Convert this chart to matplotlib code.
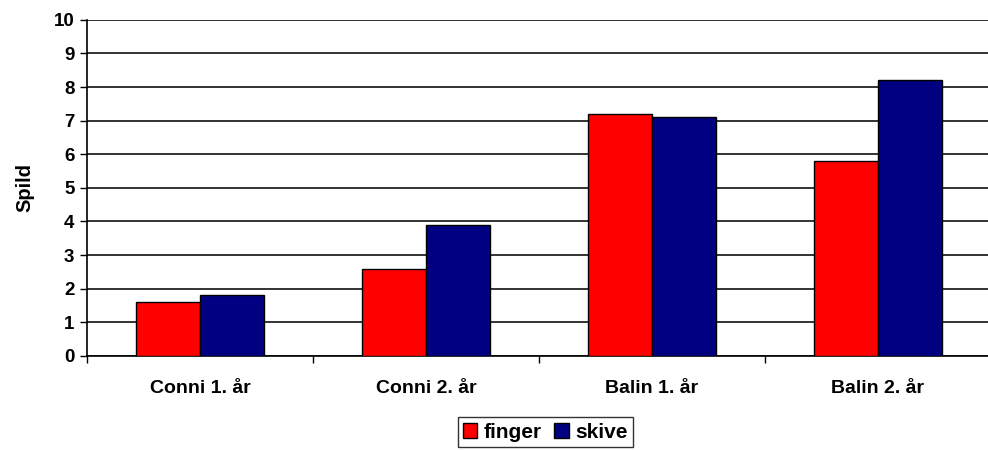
import numpy as np
import matplotlib.pyplot as plt

categories = ["Conni 1. år", "Conni 2. år", "Balin 1. år", "Balin 2. år"]
finger = [1.6, 2.6, 7.2, 5.8]
skive = [1.8, 3.9, 7.1, 8.2]

plt.rcParams['font.family'] = ['Liberation Sans', 'DejaVu Sans']
plt.rcParams['font.weight'] = 'bold'

fig = plt.figure(figsize=(9.88, 4.5), dpi=100)
ax = fig.add_axes([0.088, 0.209, 0.915, 0.747])

x = np.arange(len(categories))
w = 0.285
ax.bar(x - w / 2, finger, w, color='#ff0000', edgecolor='black', linewidth=1, label='finger', zorder=3)
ax.bar(x + w / 2, skive, w, color='#000080', edgecolor='black', linewidth=1, label='skive', zorder=3)

ax.set_xlim(-0.5, 3.5)
ax.set_ylim(0, 10)
ax.set_yticks(range(0, 11))
ax.yaxis.grid(True, color='#333333', linewidth=1.4, zorder=0)
ax.set_axisbelow(True)

# category labels centred, tick marks between groups
ax.set_xticks(x)
ax.set_xticklabels(categories, fontsize=14, fontweight='bold')
ax.tick_params(axis='x', length=0, pad=17)
ax.set_xticks(np.arange(-0.5, 4.0, 1.0), minor=True)
ax.tick_params(axis='x', which='minor', length=5, width=1, direction='out')
ax.tick_params(axis='y', labelsize=13.5, length=5, width=1, direction='out', pad=4)
for lab in ax.get_yticklabels():
    lab.set_fontweight('bold')

for side in ['top', 'right']:
    ax.spines[side].set_visible(False)
ax.spines['left'].set_linewidth(1.2)
ax.spines['bottom'].set_linewidth(1.2)

ax.set_ylabel('Spild', fontsize=14.5, fontweight='bold', labelpad=14)

leg = ax.legend(loc='upper center', bbox_to_anchor=(0.507, -0.152), ncol=2,
                frameon=True, fancybox=False, edgecolor='black', fontsize=15,
                handlelength=0.7, handleheight=0.7, handletextpad=0.3,
                columnspacing=0.6, borderpad=0.25)
leg.get_frame().set_linewidth(1)

fig.savefig('out.png', dpi=100)
